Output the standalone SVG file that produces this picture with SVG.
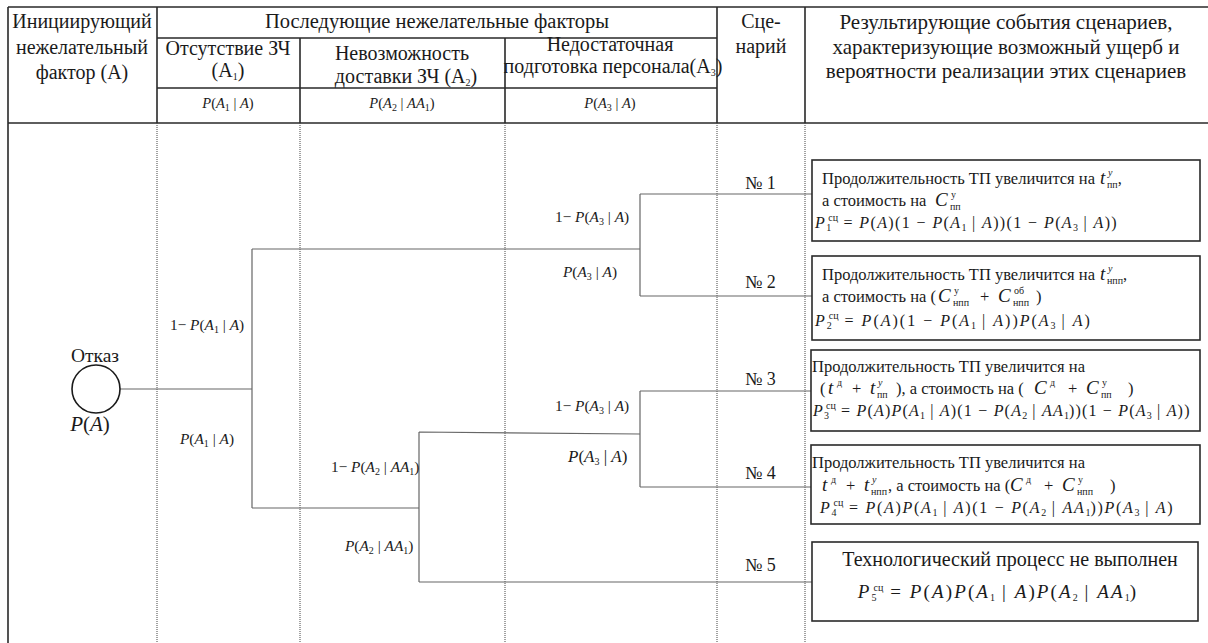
<svg xmlns="http://www.w3.org/2000/svg" width="1208" height="643" viewBox="0 0 1208 643" font-family="Liberation Serif">
<style>
text{font-family:"Liberation Serif",serif;fill:#1a1a1a}
.h{font-size:20px}
.hr{font-size:21px}
.b{font-size:16.5px}
.f{font-size:15.3px}
.fh{font-size:14.5px}
.fm{font-size:16px}
.m{font-size:19px;font-style:italic}
.i{font-style:italic}
.s{font-size:10px;letter-spacing:0}
.grid{stroke:#2a2a2a;stroke-width:1.6;fill:none}
.dot{stroke:#444;stroke-width:1;stroke-dasharray:1 1;fill:none}
.ln{stroke:#666;stroke-width:1.2;fill:none}
.box{stroke:#2a2a2a;stroke-width:1.6;fill:#fff}
</style>
<rect width="1208" height="643" fill="#fff"/>
<g id="table">
<path class="grid" d="M8 7H1208M8 7V643M157 7V123M300 38V123M505 38V123M717 7V123M805 7V123M157 38H717M157 88H717M8 123H1208"/>
<path class="dot" d="M157 123V643M300 123V643M505 123V643M717 123V643M805 123V643"/>
<g class="h" text-anchor="middle">
<text x="82" y="28">Инициирующий</text>
<text x="82" y="54">нежелательный</text>
<text x="82" y="79">фактор (А)</text>
<text x="437" y="28" font-size="20.5">Последующие нежелательные факторы</text>
<text x="228" y="55">Отсутствие ЗЧ</text>
<text x="228" y="77">(А<tspan class="s" dy="3">1</tspan><tspan dy="-3">)</tspan></text>
<text x="402" y="60">Невозможность</text>
<text x="406" y="83">доставки ЗЧ (А<tspan class="s" dy="3">2</tspan><tspan dy="-3">)</tspan></text>
<text x="610" y="51">Недостаточная</text>
<text x="613" y="73">подготовка персонала(А<tspan class="s" dy="3">3</tspan><tspan dy="-3">)</tspan></text>
<text x="761" y="28">Сце-</text>
<text x="761" y="53">нарий</text>
</g>
<g class="hr" text-anchor="middle">
<text x="1006" y="29">Результирующие события сценариев,</text>
<text x="1006" y="54">характеризующие возможный ущерб и</text>
<text x="1006" y="78">вероятности реализации этих сценариев</text>
</g>
<g class="fh" text-anchor="middle">
<text x="228" y="108"><tspan class="i">P</tspan>(<tspan class="i">A</tspan><tspan class="s" dy="3">1</tspan><tspan dy="-3"> | </tspan><tspan class="i">A</tspan>)</text>
<text x="402" y="108"><tspan class="i">P</tspan>(<tspan class="i">A</tspan><tspan class="s" dy="3">2</tspan><tspan dy="-3"> | </tspan><tspan class="i">AA</tspan><tspan class="s" dy="3">1</tspan><tspan dy="-3">)</tspan></text>
<text x="610" y="108"><tspan class="i">P</tspan>(<tspan class="i">A</tspan><tspan class="s" dy="3">3</tspan><tspan dy="-3"> | </tspan><tspan class="i">A</tspan>)</text>
</g>
</g>
<g id="connectors">
<path class="ln" d="M120 389H252M252 249V508M252 249H640M640 194V296M640 194H812M640 296H812M252 508H419M419 432V582M419 432L640 434M640 391V487M640 391H811M640 487H811M419 582H812"/>
</g>
<g id="root">
<circle cx="96" cy="389" r="24" fill="#fff" stroke="#1a1a1a" stroke-width="1.6"/>
<text x="95" y="362" text-anchor="middle" font-size="19.5">Отказ</text>
<text x="90" y="431" text-anchor="middle" font-size="21"><tspan class="i">P</tspan>(<tspan class="i">A</tspan>)</text>
</g>
<g id="branch-labels" class="f">
<text x="170" y="330">1− <tspan class="i">P</tspan>(<tspan class="i">A</tspan><tspan class="s" dy="3">1</tspan><tspan dy="-3"> | </tspan><tspan class="i">A</tspan>)</text>
<text x="180" y="444"><tspan class="i">P</tspan>(<tspan class="i">A</tspan><tspan class="s" dy="3">1</tspan><tspan dy="-3"> | </tspan><tspan class="i">A</tspan>)</text>
<text x="555" y="222">1− <tspan class="i">P</tspan>(<tspan class="i">A</tspan><tspan class="s" dy="3">3</tspan><tspan dy="-3"> | </tspan><tspan class="i">A</tspan>)</text>
<text x="563" y="277"><tspan class="i">P</tspan>(<tspan class="i">A</tspan><tspan class="s" dy="3">3</tspan><tspan dy="-3"> | </tspan><tspan class="i">A</tspan>)</text>
<text x="555" y="411">1− <tspan class="i">P</tspan>(<tspan class="i">A</tspan><tspan class="s" dy="3">3</tspan><tspan dy="-3"> | </tspan><tspan class="i">A</tspan>)</text>
<text x="568" y="462" font-size="17"><tspan class="i">P</tspan>(<tspan class="i">A</tspan><tspan class="s" dy="3">3</tspan><tspan dy="-3"> | </tspan><tspan class="i">A</tspan>)</text>
<text x="331" y="472">1− <tspan class="i">P</tspan>(<tspan class="i">A</tspan><tspan class="s" dy="3">2</tspan><tspan dy="-3"> | </tspan><tspan class="i">AA</tspan><tspan class="s" dy="3">1</tspan><tspan dy="-3">)</tspan></text>
<text x="345" y="551"><tspan class="i">P</tspan>(<tspan class="i">A</tspan><tspan class="s" dy="3">2</tspan><tspan dy="-3"> | </tspan><tspan class="i">AA</tspan><tspan class="s" dy="3">1</tspan><tspan dy="-3">)</tspan></text>
</g>
<g id="scenario-numbers" font-size="18">
<text x="745" y="189">№ 1</text>
<text x="745" y="288">№ 2</text>
<text x="745" y="385">№ 3</text>
<text x="745" y="479">№ 4</text>
<text x="745" y="571">№ 5</text>
</g>
<g id="s1">
<rect class="box" x="812" y="160" width="388" height="81"/>
<text class="b" x="822" y="184">Продолжительность ТП увеличится на <tspan class="m" x="1100">t</tspan><tspan class="s i" x="1108" dy="-8">y</tspan><tspan class="s" x="1107" dy="12">пп</tspan><tspan dy="-4">,</tspan></text>
<text class="b" x="822" y="206">а стоимость на <tspan class="m" x="935">C</tspan><tspan class="s" x="951" dy="-8">у</tspan><tspan class="s" x="950" dy="12">пп</tspan></text>
<text class="fm" x="815" y="228" letter-spacing="1.4"><tspan class="i">P</tspan><tspan class="s" dy="3">1</tspan><tspan class="s" dx="-3" dy="-10">сц</tspan><tspan dy="7"> = </tspan><tspan class="i">P</tspan>(<tspan class="i">A</tspan>)(1 − <tspan class="i">P</tspan>(<tspan class="i">A</tspan><tspan class="s" dy="3">1</tspan><tspan dy="-3"> | </tspan><tspan class="i">A</tspan>))(1 − <tspan class="i">P</tspan>(<tspan class="i">A</tspan><tspan class="s" dy="3">3</tspan><tspan dy="-3"> | </tspan><tspan class="i">A</tspan>))</text>
</g>
<g id="s2">
<rect class="box" x="812" y="256" width="388" height="84"/>
<text class="b" x="822" y="280">Продолжительность ТП увеличится на <tspan class="m" x="1100">t</tspan><tspan class="s i" x="1108" dy="-8">y</tspan><tspan class="s" x="1107" dy="12">нпп</tspan><tspan dy="-4">,</tspan></text>
<text class="b" x="822" y="302">а стоимость на (<tspan class="m" x="938">C</tspan><tspan class="s" x="954" dy="-8">у</tspan><tspan class="s" x="953" dy="12">нпп</tspan><tspan x="980" dy="-4">+</tspan><tspan class="m" x="998">C</tspan><tspan class="s" x="1014" dy="-8">об</tspan><tspan class="s" x="1013" dy="12">нпп</tspan><tspan x="1036" dy="-4">)</tspan></text>
<text class="fm" x="815" y="326" letter-spacing="2"><tspan class="i">P</tspan><tspan class="s" dy="3">2</tspan><tspan class="s" dx="-3" dy="-10">сц</tspan><tspan dy="7"> = </tspan><tspan class="i">P</tspan>(<tspan class="i">A</tspan>)(1 − <tspan class="i">P</tspan>(<tspan class="i">A</tspan><tspan class="s" dy="3">1</tspan><tspan dy="-3"> | </tspan><tspan class="i">A</tspan>))<tspan class="i">P</tspan>(<tspan class="i">A</tspan><tspan class="s" dy="3">3</tspan><tspan dy="-3"> | </tspan><tspan class="i">A</tspan>)</text>
</g>
<g id="s3">
<rect class="box" x="811" y="350" width="389" height="81"/>
<text class="b" x="812" y="372">Продолжительность  ТП увеличится  на</text>
<text class="b" x="820" y="394">(<tspan class="m" x="828">t</tspan><tspan class="s" x="837" dy="-8">д</tspan><tspan x="852" dy="8">+</tspan><tspan class="m" x="870">t</tspan><tspan class="s i" x="878" dy="-8">y</tspan><tspan class="s" x="877" dy="12">пп</tspan><tspan x="896" dy="-4">), а стоимость на  (</tspan><tspan class="m" x="1034">C</tspan><tspan class="s" x="1050" dy="-8">д</tspan><tspan x="1068" dy="8">+</tspan><tspan class="m" x="1086">C</tspan><tspan class="s" x="1102" dy="-8">у</tspan><tspan class="s" x="1101" dy="12">пп</tspan><tspan x="1128" dy="-4">)</tspan></text>
<text class="fm" x="813" y="416" letter-spacing="1.2"><tspan class="i">P</tspan><tspan class="s" dy="3">3</tspan><tspan class="s" dx="-3" dy="-10">сц</tspan><tspan dy="7"> = </tspan><tspan class="i">P</tspan>(<tspan class="i">A</tspan>)<tspan class="i">P</tspan>(<tspan class="i">A</tspan><tspan class="s" dy="3">1</tspan><tspan dy="-3"> | </tspan><tspan class="i">A</tspan>)(1 − <tspan class="i">P</tspan>(<tspan class="i">A</tspan><tspan class="s" dy="3">2</tspan><tspan dy="-3"> | </tspan><tspan class="i">AA</tspan><tspan class="s" dy="3">1</tspan><tspan dy="-3">))(1 − </tspan><tspan class="i">P</tspan>(<tspan class="i">A</tspan><tspan class="s" dy="3">3</tspan><tspan dy="-3"> | </tspan><tspan class="i">A</tspan>))</text>
</g>
<g id="s4">
<rect class="box" x="811" y="445" width="389" height="79"/>
<text class="b" x="812" y="468">Продолжительность  ТП увеличится на</text>
<text class="b" x="822" y="491"><tspan class="m">t</tspan><tspan class="s" x="831" dy="-8">д</tspan><tspan x="846" dy="8">+</tspan><tspan class="m" x="864">t</tspan><tspan class="s i" x="872" dy="-8">y</tspan><tspan class="s" x="871" dy="12">нпп</tspan><tspan x="888" dy="-4">, а стоимость на (</tspan><tspan class="m" x="1010">C</tspan><tspan class="s" x="1026" dy="-8">д</tspan><tspan x="1044" dy="8">+</tspan><tspan class="m" x="1062">C</tspan><tspan class="s" x="1078" dy="-8">у</tspan><tspan class="s" x="1077" dy="12">нпп</tspan><tspan x="1110" dy="-4">)</tspan></text>
<text class="fm" x="820" y="513" letter-spacing="1.7"><tspan class="i">P</tspan><tspan class="s" dy="3">4</tspan><tspan class="s" dx="-3" dy="-10">сц</tspan><tspan dy="7"> = </tspan><tspan class="i">P</tspan>(<tspan class="i">A</tspan>)<tspan class="i">P</tspan>(<tspan class="i">A</tspan><tspan class="s" dy="3">1</tspan><tspan dy="-3"> | </tspan><tspan class="i">A</tspan>)(1 − <tspan class="i">P</tspan>(<tspan class="i">A</tspan><tspan class="s" dy="3">2</tspan><tspan dy="-3"> | </tspan><tspan class="i">AA</tspan><tspan class="s" dy="3">1</tspan><tspan dy="-3">))</tspan><tspan class="i">P</tspan>(<tspan class="i">A</tspan><tspan class="s" dy="3">3</tspan><tspan dy="-3"> | </tspan><tspan class="i">A</tspan>)</text>
</g>
<g id="s5">
<rect class="box" x="812" y="542" width="386" height="79"/>
<text x="1010" y="566" text-anchor="middle" font-size="20">Технологический процесс не выполнен</text>
<text x="998" y="598" text-anchor="middle" font-size="19" letter-spacing="2.1"><tspan class="i">P</tspan><tspan class="s" dy="3">5</tspan><tspan class="s" dx="-3" dy="-10">сц</tspan><tspan dy="7"> = </tspan><tspan class="i">P</tspan>(<tspan class="i">A</tspan>)<tspan class="i">P</tspan>(<tspan class="i">A</tspan><tspan class="s" dy="3">1</tspan><tspan dy="-3"> | </tspan><tspan class="i">A</tspan>)<tspan class="i">P</tspan>(<tspan class="i">A</tspan><tspan class="s" dy="3">2</tspan><tspan dy="-3"> | </tspan><tspan class="i">AA</tspan><tspan class="s" dy="3">1</tspan><tspan dy="-3">)</tspan></text>
</g>
</svg>
